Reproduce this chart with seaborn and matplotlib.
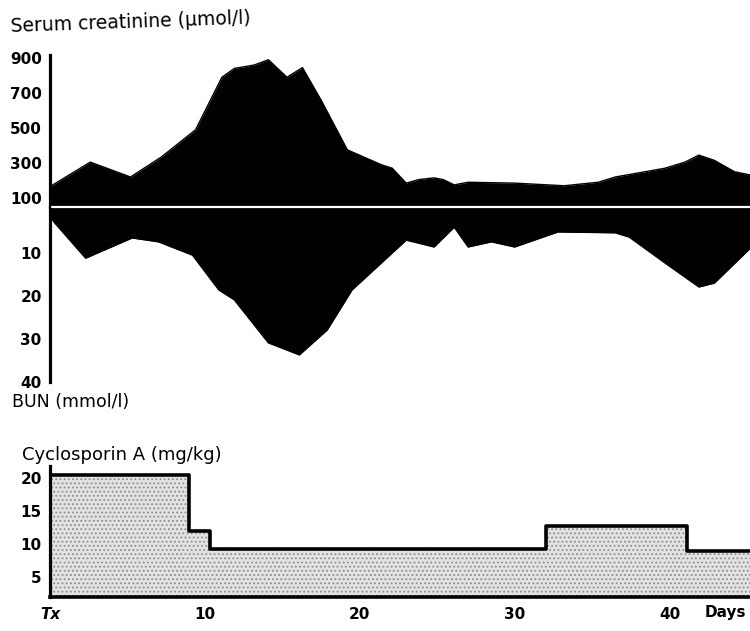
import numpy as np
import pandas as pd
import seaborn as sns
import matplotlib.pyplot as plt

# Values
cr_days = [0, 2.6, 5.2, 7.2, 9.4, 11.1, 11.9, 13.2, 14.1, 15.3, 16.3, 17.5, 19.2,
           21.4, 22.1, 23.0, 23.8, 24.8, 25.4, 26.1, 27.0, 30.0, 33.2, 35.4, 36.5,
           39.7, 41.0, 41.9, 42.9, 44.2, 45.3]
creatinine = [165, 305, 220, 335, 490, 790, 840, 860, 890, 790, 845, 660, 375,
              290, 270, 185, 205, 215, 205, 175, 190, 185, 170, 190, 220,
              270, 305, 345, 315, 250, 230]

bun_days = [0, 0.3, 2.3, 5.3, 7.0, 9.2, 10.9, 11.9, 14.1, 16.1, 17.9, 19.5, 21.4,
            23.0, 24.8, 26.1, 27.0, 28.5, 30.0, 32.8, 36.5, 37.4, 39.7, 41.9,
            42.9, 45.3]
bun = [1.5, 3.0, 11.2, 6.5, 7.4, 10.5, 18.6, 20.9, 30.9, 33.7, 27.9, 18.6, 12.3,
       7.0, 8.6, 4.0, 8.6, 7.4, 8.6, 5.1, 5.3, 6.3, 12.3, 17.9, 17.0, 8.6]

csa_days = [0, 9.0, 10.3, 32.0, 41.1, 45.3]
csa_dose = [20.5, 12.0, 9.2, 12.8, 9.0, 9.0]

cr_ticks = [100, 300, 500, 700, 900]
bun_ticks = [0, 10, 20, 30, 40]
bun_labels = ["", "10", "20", "30", "40"]
csa_ticks = [5, 10, 15, 20]
day_ticks = [0, 10, 20, 30, 40]
day_labels = ["Tx", "10", "20", "30", "40"]

sns.set_style("white")
plt.rcParams['font.family'] = ['DejaVu Sans']
plt.rcParams['text.color'] = 'black'
plt.rcParams['xtick.color'] = 'black'
plt.rcParams['ytick.color'] = 'black'
plt.rcParams['hatch.linewidth'] = 0.8

W, H = 750, 631
fig = plt.figure(figsize=(7.5, 6.31), dpi=100)


def box(left, top, right, bottom):
    return [left / W, 1 - bottom / H, (right - left) / W, (bottom - top) / H]


XMAX = 45.2
ax_cr = fig.add_axes(box(50, 55, 750, 207))
ax_bun = fig.add_axes(box(50, 207, 750, 382))
ax_cy = fig.add_axes(box(50, 466, 750, 597))

# serum creatinine, black area above the baseline
cr_df = pd.DataFrame({"day": cr_days, "value": creatinine})
cr_lo = 48.6
ax_cr.fill_between(cr_df["day"], cr_lo, cr_df["value"], color="black", lw=0)
sns.lineplot(data=cr_df, x="day", y="value", ax=ax_cr, color="black", lw=1)
ax_cr.set_ylim(cr_lo, 917)
ax_cr.set_yticks(cr_ticks)

# BUN, black area below the baseline
bun_df = pd.DataFrame({"day": bun_days, "value": bun})
bun_top = -0.7
ax_bun.fill_between(bun_df["day"], bun_top, bun_df["value"], color="black", lw=0)
sns.lineplot(data=bun_df, x="day", y="value", ax=ax_bun, color="black", lw=1)
ax_bun.set_ylim(40, bun_top)
ax_bun.set_yticks(bun_ticks)
ax_bun.set_yticklabels(bun_labels)
ax_bun.axhline(bun_top, xmin=0.003, color="white", lw=1.6, clip_on=False, zorder=5)

# cyclosporin A dose, stippled step area
cy_df = pd.DataFrame({"day": csa_days, "dose": csa_dose})
cy_lo = 2.0
ax_cy.fill_between(cy_df["day"], cy_lo, cy_df["dose"], step="post",
                   facecolor="#e2e2e2", edgecolor="#8c8c8c", hatch="....", lw=0)
sns.lineplot(data=cy_df, x="day", y="dose", ax=ax_cy, color="black", lw=2.6,
             drawstyle="steps-post")
ax_cy.set_ylim(cy_lo, 21.8)
ax_cy.set_yticks(csa_ticks)
ax_cy.set_xticks(day_ticks)
ax_cy.set_xticklabels(day_labels)
for lab in ax_cy.get_xticklabels()[:1]:
    lab.set_style("italic")

for ax in (ax_cr, ax_bun, ax_cy):
    ax.set_xlim(0, XMAX)
    ax.set_xlabel("")
    ax.set_ylabel("")
    sns.despine(ax=ax, top=True, right=True, bottom=(ax is not ax_cy))
    ax.spines["left"].set_linewidth(2.3)
    ax.spines["left"].set_color("black")
    ax.tick_params(axis="y", length=5, width=1.8, pad=1, labelsize=11)
    for lab in ax.get_yticklabels():
        lab.set_fontweight("bold")
    if ax is not ax_cy:
        ax.set_xticks([])

ax_cy.spines["bottom"].set_linewidth(2.6)
ax_cy.spines["bottom"].set_color("black")
ax_cy.tick_params(axis="x", length=4, width=1.5, pad=3, labelsize=11)
for lab in ax_cy.get_xticklabels():
    lab.set_fontweight("bold")

fig.text(10 / W, 1 - 32 / H, "Serum creatinine (μmol/l)", fontsize=13.5,
         rotation=2, ha="left", va="baseline")
fig.text(12 / W, 1 - 407 / H, "BUN (mmol/l)", fontsize=12.5,
         ha="left", va="baseline")
fig.text(22 / W, 1 - 460 / H, "Cyclosporin A (mg/kg)", fontsize=13,
         ha="left", va="baseline")
fig.text(705 / W, 1 - 617 / H, "Days", fontsize=11, fontweight="bold",
         ha="left", va="baseline")

fig.savefig("out.png", dpi=100)
